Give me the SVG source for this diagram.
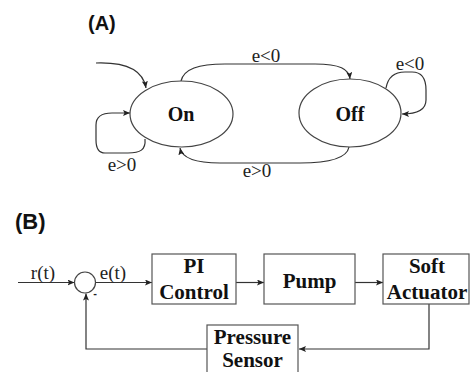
<svg xmlns="http://www.w3.org/2000/svg" width="470" height="372" viewBox="0 0 470 372">
<defs>
<marker id="ah" markerUnits="userSpaceOnUse" markerWidth="7" markerHeight="6" refX="7" refY="3" orient="auto">
<path d="M0,0 L7,3 L0,6 L1.5,3 z" fill="#222"/>
</marker>
<style>
.lbl{font-family:"Liberation Sans",Arial,sans-serif;font-weight:bold;fill:#111}
.st{font-family:"Liberation Serif","Times New Roman",serif;font-weight:bold;font-size:20px;fill:#111;text-anchor:middle}
.cond{font-family:"Liberation Serif","Times New Roman",serif;font-size:19px;fill:#222;text-anchor:middle}
.box{fill:#fff;stroke:#555;stroke-width:1.2}
.bt{font-family:"Liberation Serif","Times New Roman",serif;font-weight:bold;font-size:21px;fill:#111;text-anchor:middle}
.sig{font-family:"Liberation Serif","Times New Roman",serif;font-size:19px;fill:#222;text-anchor:middle}
.ell{fill:#fff;stroke:#444;stroke-width:1.2}
.c{fill:none;stroke:#333;stroke-width:1.2}
</style>
</defs>
<rect width="470" height="372" fill="#fff"/>
<text class="lbl" x="88" y="30" font-size="20">(A)</text>
<text class="lbl" x="15" y="229" font-size="22">(B)</text>

<g id="connectors">
<path class="c" d="M96,63 C125,62 143,70 146,88" marker-end="url(#ah)"/>
<path class="c" d="M181,81 C184,69 198,64 225,64 L315,64 C340,64 349,69 350,79" marker-end="url(#ah)"/>
<path class="c" d="M349,147 C347,158 330,163 300,163 L220,163 C195,163 182,158 180,148" marker-end="url(#ah)"/>
<path class="c" d="M145,139 C146,150 140,153 128,153 L105,153 C98,153 96,148 96,140 L96,125 C96,116 102,113 112,113 L130,113" marker-end="url(#ah)"/>
<path class="c" d="M386,88 C388,77 395,72 405,72 L412,72 C422,72 426,78 426,90 L426,100 C426,110 418,114 402,114" marker-end="url(#ah)"/>
<path class="c" d="M18,282.5 H74.5" marker-end="url(#ah)"/>
<path class="c" d="M95.5,282.5 H152" marker-end="url(#ah)"/>
<path class="c" d="M236,282.5 H264" marker-end="url(#ah)"/>
<path class="c" d="M355,282.5 H383" marker-end="url(#ah)"/>
<path class="c" d="M429,304 V349 H299" marker-end="url(#ah)"/>
<path class="c" d="M207,349 H86 V293.5" marker-end="url(#ah)"/>
</g>

<g id="labels">
<text class="cond" x="266" y="62">e&lt;0</text>
<text class="cond" x="257" y="177">e&gt;0</text>
<text class="cond" x="122" y="171">e&gt;0</text>
<text class="cond" x="410" y="70">e&lt;0</text>
<text class="sig" x="43" y="279">r(t)</text>
<text class="sig" x="113" y="279">e(t)</text>
<text x="95" y="297" font-family="Liberation Sans,Arial,sans-serif" font-weight="bold" font-size="11" fill="#222" text-anchor="middle">-</text>
</g>

<g id="on">
<ellipse class="ell" cx="181.5" cy="114" rx="51.5" ry="33"/>
<text class="st" x="181" y="121">On</text>
</g>
<g id="off">
<ellipse class="ell" cx="350" cy="113" rx="51" ry="34"/>
<text class="st" x="350" y="121">Off</text>
</g>

<g id="sum">
<circle cx="85" cy="282.5" r="10.5" fill="#fff" stroke="#444" stroke-width="1.2"/>
</g>
<g id="pi">
<rect class="box" x="152" y="254" width="84" height="50"/>
<text class="bt" x="194" y="273">PI</text>
<text class="bt" x="194" y="299">Control</text>
</g>
<g id="pump">
<rect class="box" x="264" y="254" width="91" height="50"/>
<text class="bt" x="309.5" y="288">Pump</text>
</g>
<g id="soft">
<rect class="box" x="383" y="254" width="86" height="50"/>
<text class="bt" x="427" y="273">Soft</text>
<text class="bt" x="427" y="299">Actuator</text>
</g>
<g id="sensor">
<rect class="box" x="207" y="325" width="91" height="56"/>
<text class="bt" x="252.5" y="344">Pressure</text>
<text class="bt" x="252.5" y="367">Sensor</text>
</g>
</svg>
